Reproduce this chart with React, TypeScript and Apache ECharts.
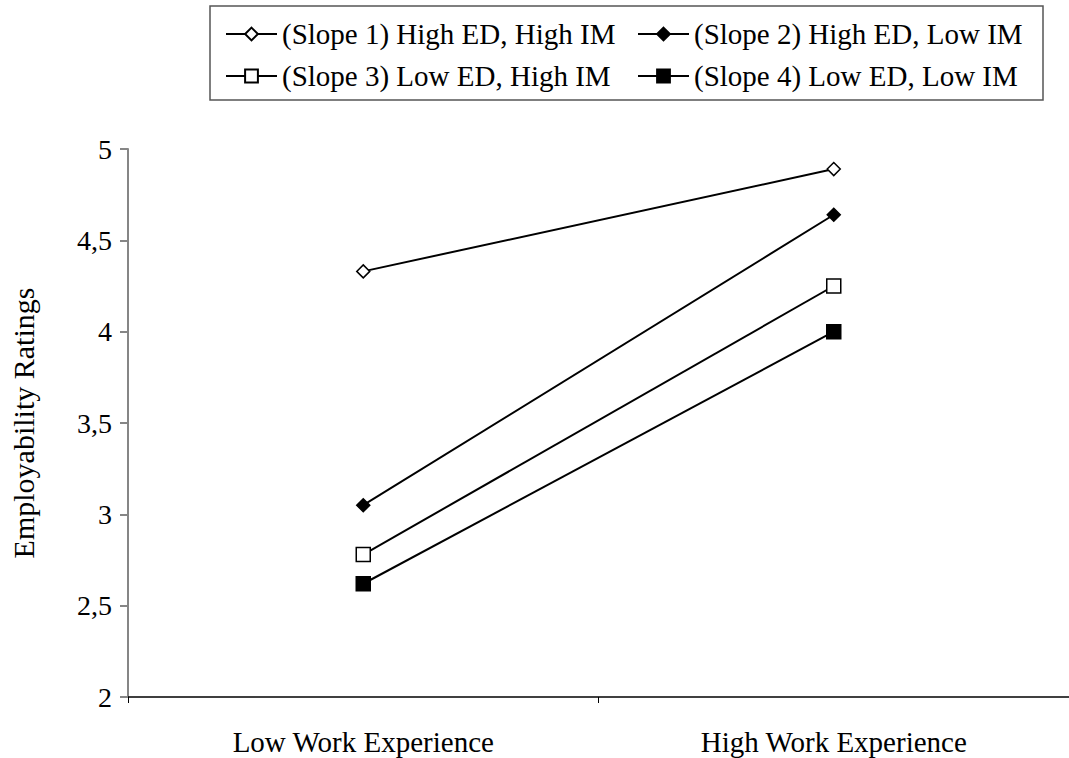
import React, { useEffect, useRef } from "react";
import * as echarts from "echarts";

const categories = ["Low Work Experience", "High Work Experience"];
const seriesNames = [
  "(Slope 1) High ED, High IM",
  "(Slope 2) High ED, Low IM",
  "(Slope 3) Low ED, High IM",
  "(Slope 4) Low ED, Low IM",
];
const slope1 = [4.33, 4.89];
const slope2 = [3.05, 4.64];
const slope3 = [2.78, 4.25];
const slope4 = [2.62, 4.0];
const yTicks = { min: 2, max: 5, interval: 0.5 };
const yAxisName = "Employability Ratings";

const FONT = "Liberation Serif";

export default function App() {
  const ref = useRef<HTMLDivElement>(null);
  useEffect(() => {
    if (!ref.current) return;
    const chart = echarts.init(ref.current, null, { renderer: "svg" });
    const symbols = ["diamond", "diamond", "rect", "rect"];
    const fills = ["#fff", "#000", "#fff", "#000"];
    const sizes = [13, 13, 14, 14];
    const datas = [slope1, slope2, slope3, slope4];
    const legendPos = [
      { left: 225, top: 19 },
      { left: 637, top: 19 },
      { left: 225, top: 61 },
      { left: 637, top: 61 },
    ];
    chart.setOption({
      animation: false,
      backgroundColor: "#fff",
      grid: { left: 128, top: 149, width: 950, height: 548, containLabel: false },
      legend: seriesNames.map((n, i) => ({
        data: [n],
        left: legendPos[i].left,
        top: legendPos[i].top,
        padding: 0,
        itemWidth: 51,
        itemHeight: 16,
        itemGap: 5,
        textStyle: { fontFamily: FONT, fontSize: 29, color: "#000", lineHeight: 30 },
      })),
      graphic: [
        {
          type: "rect",
          shape: { x: 210, y: 6, width: 833, height: 94 },
          style: { fill: "none", stroke: "#555", lineWidth: 1.5 },
          silent: true,
        },
      ],
      xAxis: {
        type: "category",
        data: categories,
        boundaryGap: true,
        axisLine: { show: true, lineStyle: { color: "#000", width: 1.5 } },
        axisTick: { show: true, length: 6, lineStyle: { color: "#000" } },
        axisLabel: { fontFamily: FONT, fontSize: 29, color: "#000", margin: 30 },
        splitLine: { show: false },
      },
      yAxis: {
        type: "value",
        min: yTicks.min,
        max: yTicks.max,
        interval: yTicks.interval,
        name: yAxisName,
        nameLocation: "middle",
        nameGap: 90,
        nameRotate: 90,
        nameTextStyle: { fontFamily: FONT, fontSize: 30, color: "#000" },
        axisLine: { show: true, lineStyle: { color: "#868686", width: 2 } },
        axisTick: { show: true, length: 8, lineStyle: { color: "#868686", width: 2 } },
        axisLabel: {
          fontFamily: FONT,
          fontSize: 28,
          color: "#000",
          margin: 16,
          formatter: (v: number) => String(v).replace(".", ","),
        },
        splitLine: { show: false },
      },
      series: seriesNames.map((n, i) => ({
        name: n,
        type: "line",
        data: datas[i],
        symbol: symbols[i],
        symbolSize: sizes[i],
        showAllSymbol: true,
        lineStyle: { color: "#000", width: 2 },
        itemStyle: { color: fills[i], borderColor: "#000", borderWidth: 1.5 },
        emphasis: { disabled: true },
      })),
    });
    return () => chart.dispose();
  }, []);
  return (
    <div
      ref={ref}
      style={{ position: "absolute", left: 0, top: 0, width: 1069, height: 758 }}
    />
  );
}
